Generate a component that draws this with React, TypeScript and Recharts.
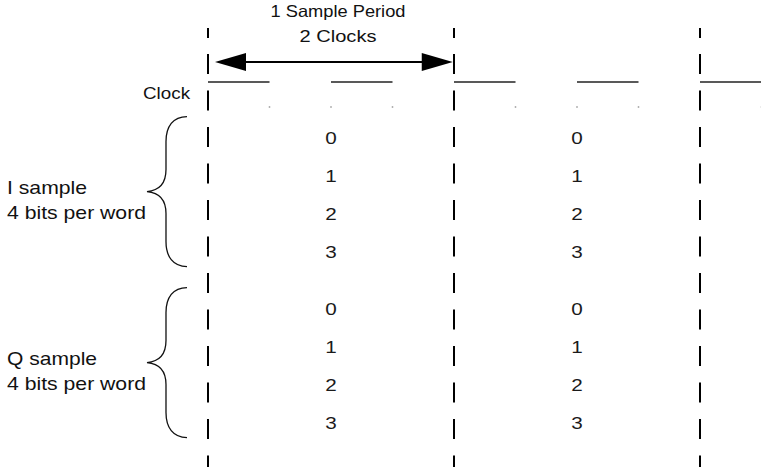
import React from 'react';
import { ComposedChart, XAxis, YAxis, Line, Scatter } from 'recharts';

// ---- layout of the coordinate system (time in clock periods, vertical in row units)
const W = 761;
const H = 467;
const clockPx = 123;
const originX = 208;
const rowPx = 38;
const originY = 138;
const xDomain: [number, number] = [-originX / clockPx, (W - originX) / clockPx];
const yDomain: [number, number] = [-originY / rowPx, (H - originY) / rowPx];

// ---- data
const sampleBoundaries = [0, 2, 4];
const clockRisingEdges = [0, 1, 2, 3, 4];
const clockHighWidth = 0.5;
const clockLowDots = [0.5, 1, 1.5, 2.5, 3, 3.5, 4.5];
const sampleCenters = [1, 3];
const bitLabels = ['0', '1', '2', '3'];
const iRows = [0, 1, 2, 3];
const qRows = [4.5, 5.5, 6.5, 7.5];
const groupNames = ['I sample', 'Q sample'];
const groupSub = '4 bits per word';
const titleLines = ['1 Sample Period', '2 Clocks'];
const clockLabel = 'Clock';
const periodArrow = [0.057, 1.99];

// ---- lanes (row units)
const laneTitle = [-3.184, -2.526];
const laneArrow = -2.0;
const laneClockHigh = -1.474;
const laneClockLow = -0.816;
const laneClockLabel = -1.026;
const laneDashTop = -2.895;
const titleX = 1.057;
const clockLabelX = -0.528;
const groupLabelX = -1.634;
const bracePointX = -0.496;

const FONT = '"Liberation Sans", Arial, sans-serif';

const groups = [iRows, qRows].map((rows, i) => {
  const center = (rows[0] + rows[rows.length - 1]) / 2;
  return { name: groupNames[i], rows, center };
});

const titleData = titleLines.map((label, i) => ({ t: titleX, y: laneTitle[i], label, w: i === 0 ? 135 : 77 }));
const clockLabelData = [{ t: clockLabelX, y: laneClockLabel, label: clockLabel }];
const groupLabelData = groups.flatMap((g) => [
  { t: groupLabelX, y: g.center - 0.02, label: g.name, w: g.name.startsWith('I') ? 80 : 90 },
  { t: groupLabelX, y: g.center + 0.63, label: groupSub, w: 139 },
]);
const digitData = sampleCenters.flatMap((c) =>
  groups.flatMap((g) => g.rows.map((r, k) => ({ t: c, y: r, label: bitLabels[k] })))
);
const braceData = groups.map((g) => ({ t: bracePointX, y: g.center - 0.09 }));
const arrowHeadData = [
  { t: periodArrow[0], y: laneArrow, dir: -1 },
  { t: periodArrow[1], y: laneArrow, dir: 1 },
];
const lowDotData = clockLowDots.map((t) => ({ t, y: laneClockLow }));

const dashPattern = ['10', '16', ...Array(14).fill('20 16.5')].join(' ');

const TitleShape = (p: any) => (
  <text x={p.cx} y={p.cy} textAnchor="middle" fontFamily={FONT} fontSize={16.5} fill="#111"
    textLength={p.payload.w} lengthAdjust="spacingAndGlyphs">{p.payload.label}</text>
);
const ClockLabelShape = (p: any) => (
  <text x={p.cx} y={p.cy} textAnchor="start" fontFamily={FONT} fontSize={16.5} fill="#111"
    textLength={47} lengthAdjust="spacingAndGlyphs">{p.payload.label}</text>
);
const GroupLabelShape = (p: any) => (
  <text x={p.cx} y={p.cy} textAnchor="start" fontFamily={FONT} fontSize={19} fill="#111"
    textLength={p.payload.w} lengthAdjust="spacingAndGlyphs">{p.payload.label}</text>
);
const DigitShape = (p: any) => (
  <text x={p.cx} y={p.cy} textAnchor="middle" dominantBaseline="central" fontFamily={FONT}
    fontSize={17} fill="#1a1a1a" textLength={11.5} lengthAdjust="spacingAndGlyphs">{p.payload.label}</text>
);
const BraceShape = (p: any) => {
  const x = p.cx;
  const y = p.cy;
  const d = [
    `M ${x + 40} ${y - 75}`,
    `C ${x + 26} ${y - 75} ${x + 19} ${y - 65} ${x + 19} ${y - 50}`,
    `L ${x + 19} ${y - 22}`,
    `C ${x + 19} ${y - 8} ${x + 12} ${y - 1} ${x} ${y}`,
    `C ${x + 12} ${y + 1} ${x + 19} ${y + 8} ${x + 19} ${y + 22}`,
    `L ${x + 19} ${y + 50}`,
    `C ${x + 19} ${y + 65} ${x + 26} ${y + 75} ${x + 40} ${y + 75}`,
  ].join(' ');
  return <path d={d} fill="none" stroke="#111" strokeWidth={1.3} />;
};
const ArrowHeadShape = (p: any) => {
  const dir = p.payload.dir;
  const x = p.cx;
  const y = p.cy;
  return <polygon points={`${x},${y} ${x - dir * 31},${y - 9} ${x - dir * 31},${y + 9}`} fill="#000" />;
};
const DotShape = (p: any) => <rect x={p.cx - 0.75} y={p.cy - 0.75} width={1.5} height={1.5} fill="#999" />;

export default function App() {
  return (
    <div style={{ position: 'absolute', left: 0, top: 0, width: W, height: H, background: '#fff' }}>
      <ComposedChart width={W} height={H} margin={{ top: 0, right: 0, bottom: 0, left: 0 }}>
        <XAxis type="number" dataKey="t" domain={xDomain} hide allowDataOverflow />
        <YAxis type="number" dataKey="y" domain={yDomain} reversed hide allowDataOverflow />

        {sampleBoundaries.map((b) => (
          <Line key={`b${b}`} data={[{ t: b, y: laneDashTop }, { t: b, y: yDomain[1] }]} dataKey="y"
            stroke="#000" strokeWidth={2} strokeDasharray={dashPattern} dot={false} activeDot={false}
            isAnimationActive={false} />
        ))}

        {clockRisingEdges.map((e) => (
          <Line key={`c${e}`} data={[{ t: e, y: laneClockHigh }, { t: e + clockHighWidth, y: laneClockHigh }]}
            dataKey="y" stroke="#222" strokeWidth={1.5} dot={false} activeDot={false} isAnimationActive={false} />
        ))}

        <Line data={[{ t: periodArrow[0] + 0.1, y: laneArrow }, { t: periodArrow[1] - 0.1, y: laneArrow }]}
          dataKey="y" stroke="#000" strokeWidth={2} dot={false} activeDot={false} isAnimationActive={false} />

        <Scatter data={arrowHeadData} dataKey="y" shape={ArrowHeadShape} isAnimationActive={false} />
        <Scatter data={lowDotData} dataKey="y" shape={DotShape} isAnimationActive={false} />
        <Scatter data={braceData} dataKey="y" shape={BraceShape} isAnimationActive={false} />
        <Scatter data={titleData} dataKey="y" shape={TitleShape} isAnimationActive={false} />
        <Scatter data={clockLabelData} dataKey="y" shape={ClockLabelShape} isAnimationActive={false} />
        <Scatter data={groupLabelData} dataKey="y" shape={GroupLabelShape} isAnimationActive={false} />
        <Scatter data={digitData} dataKey="y" shape={DigitShape} isAnimationActive={false} />
      </ComposedChart>
    </div>
  );
}
